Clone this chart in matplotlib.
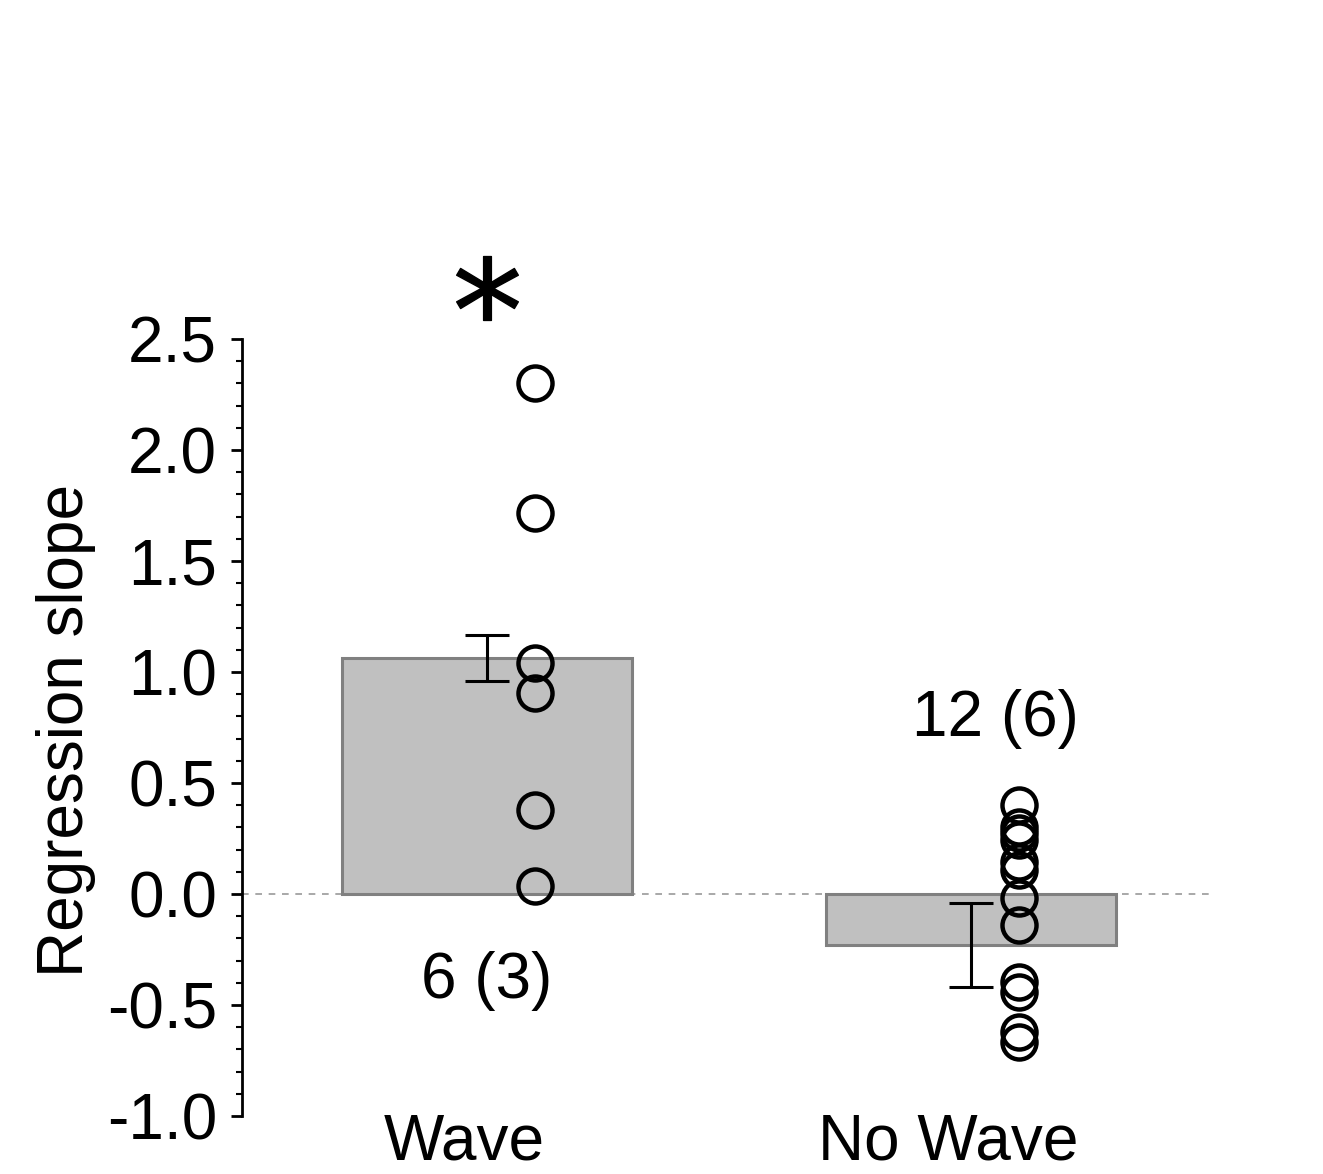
import matplotlib
matplotlib.use("Agg")
import matplotlib.pyplot as plt
from matplotlib.ticker import MultipleLocator, FormatStrFormatter

# data
groups = ["Wave", "No Wave"]
bar_means = [1.063, -0.23]
bar_errs = [0.104, 0.19]
counts = ["6 (3)", "12 (6)"]
wave_points = [2.30, 1.716, 1.04, 0.905, 0.378, 0.036]
nowave_points = [0.40, 0.30, 0.275, 0.243, 0.144, 0.108, -0.018, -0.14,
                 -0.396, -0.441, -0.622, -0.667]
yticks = [-1.0, -0.5, 0.0, 0.5, 1.0, 1.5, 2.0, 2.5]

plt.rcParams['font.family'] = ['Liberation Sans', 'DejaVu Sans']
plt.rcParams['axes.unicode_minus'] = False

fig = plt.figure(figsize=(13.23, 11.74), dpi=100)
ax = fig.add_axes([0.1829, 0.0494, 0.7317, 0.6618])

xs = list(range(len(groups)))
ax.bar(xs, bar_means, width=0.6, color="#c0c0c0", edgecolor="#808080",
       linewidth=2.2, zorder=2)
ax.errorbar(xs, bar_means, yerr=bar_errs, fmt="none", ecolor="black",
            elinewidth=2.2, capsize=16, capthick=2.2, zorder=3)

for x, pts in zip(xs, [wave_points, nowave_points]):
    ax.plot([x + 0.1] * len(pts), pts, "o", ms=24.5, mfc="none", mec="black",
            mew=3.2, zorder=4, clip_on=False)

ax.axhline(0, color="#999999", lw=1.2, ls=(0, (4, 4)), zorder=1)

# significance star above Wave
ax.plot([xs[0]], [2.73], marker=r"$*$", ms=46, color="black",
        clip_on=False)

# n labels
ax.text(xs[0], -0.39, counts[0], ha="center", va="center", fontsize=46)
ax.text(xs[1] + 0.05, 0.79, counts[1], ha="center", va="center", fontsize=46)

# group labels
for x, g in zip(xs, groups):
    ax.text(x - 0.046, -1.198, g, ha="center", va="baseline", fontsize=46,
            clip_on=False)

ax.set_xlim(-0.506, 1.494)
ax.set_ylim(-1.0, 2.5)
ax.set_yticks(yticks)
ax.yaxis.set_major_formatter(FormatStrFormatter("%.1f"))
ax.yaxis.set_minor_locator(MultipleLocator(0.1))
ax.tick_params(axis="y", which="major", length=8, width=2, pad=10,
               labelsize=46, direction="out")
ax.tick_params(axis="y", which="minor", length=4, width=1.5, direction="out")
ax.set_xticks([])
for s in ["top", "right", "bottom"]:
    ax.spines[s].set_visible(False)
ax.spines["left"].set_linewidth(2)

fig.text(66 / 1323, 1 - 730 / 1174, "Regression slope", rotation=90,
         ha="center", va="center", fontsize=46)

fig.savefig("out.png", dpi=100)
